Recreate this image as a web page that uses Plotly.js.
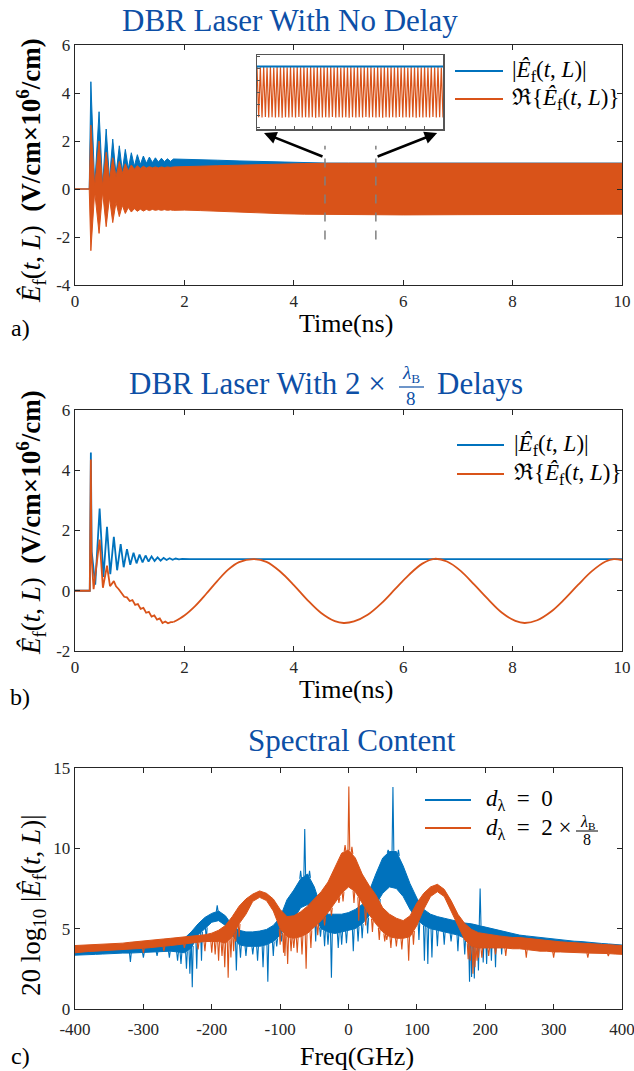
<!DOCTYPE html>
<html><head><meta charset="utf-8">
<script src="https://cdn.plot.ly/plotly-3.0.1.min.js"></script>
<style>html,body{margin:0;padding:0;background:#fff}#chart{width:634px;height:1071px}</style>
</head><body><div id="chart"></div>
<script>
// ===== Panel a: DBR laser, no delay (envelopes) =====
const tA = [0,0.26,0.29,0.36,0.44,0.505,0.57,0.63,0.69,0.75,0.81,0.865,0.92,0.975,1.03,1.085,1.14,1.195,1.25,1.305,1.36,1.415,1.47,1.525,1.58,1.635,1.69,1.745,1.8,1.9,2.0,2.3,2.6,3.0,3.4,3.8,4.2,4.6,5.0,6.0,7.0,8.0,9.0,10.0];
const aAbsUpper = [0,0,4.47,0.12,3.22,0.15,2.5,0.4,2.08,0.6,1.8,0.75,1.65,0.85,1.51,0.95,1.43,1.02,1.375,1.07,1.33,1.1,1.3,1.12,1.28,1.14,1.26,1.15,1.25,1.24,1.24,1.22,1.2,1.17,1.14,1.11,1.09,1.08,1.08,1.08,1.08,1.08,1.08,1.08];
const aReUpper = [0,0,2.66,0.1,2.0,0.12,1.53,0.35,1.3,0.5,1.15,0.65,1.05,0.75,1.0,0.82,0.97,0.85,0.95,0.87,0.93,0.88,0.92,0.88,0.92,0.89,0.92,0.9,0.92,0.92,0.93,0.95,0.97,1.0,1.03,1.05,1.06,1.07,1.07,1.07,1.07,1.07,1.07,1.07];
const aReLower = [0,0,-2.57,-0.1,-1.85,-0.12,-1.57,-0.35,-1.4,-0.55,-1.15,-0.68,-1.02,-0.77,-0.96,-0.82,-0.93,-0.84,-0.92,-0.85,-0.9,-0.85,-0.89,-0.86,-0.89,-0.86,-0.89,-0.87,-0.89,-0.88,-0.88,-0.9,-0.93,-0.96,-1.0,-1.03,-1.05,-1.06,-1.07,-1.08,-1.07,-1.07,-1.06,-1.05];
// inset (zoom of 4.55-5.45 ns)
const insetStart = 4.55, insetEnd = 5.45;
const insetRe = [1.06,-1.05,1.05,-1.06,1.07,-1.04,1.05,-1.06,1.06,-1.05,1.04,-1.06,1.06,-1.05,1.05,-1.07,1.06,-1.05,1.05,-1.06,
 1.07,-1.05,1.05,-1.06,1.06,-1.04,1.05,-1.06,1.06,-1.05,1.04,-1.06,1.06,-1.05,1.05,-1.07,1.06,-1.05,1.05,-1.06,
 1.07,-1.05,1.05,-1.06,1.06,-1.04,1.05,-1.06,1.06,-1.05,1.04,-1.06,1.06,-1.05,1.05,-1.07,1.06,-1.05,1.05,-1.06,
 1.07,-1.05,1.05,-1.06,1.06,-1.04,1.05,-1.06,1.06,-1.05,1.04,-1.06,1.06,-1.05,1.05,-1.07,1.06,-1.05,1.05,-1.06,
 1.07,-1.05,1.05,-1.06,1.06,-1.04,1.05,-1.06,1.06,-1.05,1.04,-1.06,1.06,-1.05,1.05,-1.07,1.06,-1.05,1.05,-1.06,
 1.07,-1.05,1.05,-1.06,1.06,-1.04,1.05,-1.06,1.06,-1.05,1.04,-1.06];
const insetAbs = [1.08,1.08];
const dashTimes = [4.57,5.5];
const dashYRange = [-2.1,1.8];

// ===== Panel b: with 2 x lambda_B/8 delays =====
const tB = [0,0.27,0.285,0.29,0.305,0.37,0.45,0.52,0.585,0.645,0.71,0.77,0.835,0.89,0.95,1.01,1.07,1.125,1.18,1.235,1.29,1.345,1.4,1.455,1.51,1.565,1.62,1.675,1.73,1.785,1.84,1.9,1.96,2.1,10];
const absB = [0,0,3.3,4.59,1.3,0.2,2.73,0.46,2.12,0.55,1.79,0.68,1.55,0.78,1.38,0.86,1.26,0.91,1.2,0.94,1.17,0.97,1.14,0.99,1.11,1.0,1.09,1.02,1.08,1.03,1.07,1.04,1.06,1.05,1.05];
const tBre1 = [0,0.27,0.285,0.29,0.3,0.34,0.45,0.51,0.585,0.64,0.71,0.75,0.8,0.85,0.9,0.95,1.0,1.05,1.1,1.15,1.2,1.25,1.3,1.35,1.4,1.45,1.5,1.55,1.6,1.65,1.7,1.75,1.8];
const reB1 = [0,0,3.0,4.36,1.2,0.05,1.7,0.1,0.83,0.15,0.32,0.15,0.05,-0.08,-0.2,-0.22,-0.34,-0.31,-0.47,-0.44,-0.6,-0.57,-0.73,-0.7,-0.86,-0.82,-0.96,-0.92,-1.07,-1.02,-1.08,-1.04,-1.04];
const tBre2 = [1.8,2.0,2.2,2.4,2.6,2.8,3.0,3.27,3.5,3.75,4.0,4.25,4.5,4.75,4.91,5.1,5.35,5.6,5.85,6.1,6.35,6.57,6.8,7.05,7.3,7.55,7.8,8.05,8.22,8.45,8.7,8.95,9.2,9.45,9.7,9.85,10.0];
const reB2 = [-1.04,-0.82,-0.5,-0.1,0.32,0.7,0.95,1.05,0.96,0.64,0.19,-0.31,-0.74,-1.01,-1.07,-1.02,-0.8,-0.42,0.05,0.52,0.9,1.06,0.97,0.66,0.2,-0.28,-0.72,-1.0,-1.07,-0.98,-0.7,-0.28,0.2,0.65,0.97,1.05,1.02];

// ===== Panel c: spectral content (band edges + spikes) =====
const freq = [-400,-390,-380,-370,-360,-350,-340,-330,-320,-310,-300,-290,-280,-270,-260,-250,-240,-230,-220,-210,-200,-190,-180,-170,-160,-150,-140,-130,-120,-110,-100,-90,-80,-70,-60,-50,-40,-30,-20,-10,0,10,20,30,40,50,60,70,80,90,100,110,120,130,140,150,160,170,180,190,200,210,220,230,240,250,260,270,280,290,300,310,320,330,340,350,360,370,380,390,400];
const specBlueUp = [3.75,3.75,3.78,3.8,3.82,3.83,3.85,3.86,3.88,3.9,3.93,3.95,3.98,4.0,4.05,4.15,4.4,4.8,5.3,5.7,5.95,6.1,5.8,5.2,4.9,4.8,4.8,4.85,4.95,5.2,5.7,6.8,7.4,8.1,8.4,7.6,6.3,5.9,5.9,5.9,6.0,6.2,6.5,7.3,8.4,9.4,9.8,9.8,8.9,7.8,6.9,6.2,5.9,5.75,5.65,5.55,5.45,5.35,5.3,5.2,5.1,5.0,4.9,4.8,4.7,4.6,4.55,4.5,4.45,4.4,4.35,4.3,4.25,4.22,4.2,4.15,4.1,4.08,4.05,4.0,3.98];
const specBlueLo = [3.35,3.38,3.4,3.4,3.42,3.45,3.45,3.48,3.48,3.5,3.52,3.55,3.58,3.6,3.6,3.55,3.5,3.8,4.6,5.0,5.4,5.5,5.2,4.6,4.0,3.9,3.9,3.9,4.0,4.2,4.6,5.2,5.6,6.3,6.5,5.8,5.0,4.8,4.7,4.8,4.9,5.0,5.3,5.8,6.5,7.2,7.6,7.5,7.0,6.2,5.6,5.2,5.0,4.9,4.8,4.7,4.6,4.4,4.2,4.3,4.4,4.4,4.35,4.3,4.2,4.15,4.1,4.05,4.0,3.95,3.9,3.85,3.8,3.78,3.75,3.72,3.7,3.68,3.65,3.62,3.6];
const specOrUp = [3.95,3.97,3.98,4.0,4.02,4.05,4.08,4.1,4.15,4.2,4.25,4.28,4.32,4.36,4.4,4.44,4.48,4.52,4.56,4.62,4.72,4.9,5.2,5.75,6.4,6.85,7.15,7.35,7.2,6.85,6.2,5.75,5.8,6.05,6.4,6.85,7.3,7.9,8.8,9.7,9.9,9.4,8.4,7.7,7.1,6.3,5.9,5.65,5.5,5.8,6.6,7.2,7.6,7.76,7.45,6.75,5.9,5.32,4.95,4.75,4.68,4.6,4.55,4.5,4.45,4.45,4.4,4.35,4.3,4.25,4.2,4.18,4.15,4.12,4.1,4.08,4.05,4.03,4.0,3.98,3.95];
const specOrLo = [3.5,3.55,3.58,3.6,3.62,3.65,3.68,3.7,3.72,3.75,3.78,3.82,3.85,3.9,3.95,4.0,4.05,4.1,4.15,4.2,4.2,4.2,4.1,4.5,5.3,5.9,6.7,6.95,6.75,6.1,5.0,4.5,4.4,4.5,4.7,5.1,5.5,6.0,6.6,7.2,7.6,7.3,6.6,5.9,5.3,4.8,4.5,4.4,4.4,4.5,5.2,6.2,7.0,7.3,7.0,6.1,5.1,4.3,3.9,3.8,3.8,3.8,3.8,3.8,3.75,3.75,3.7,3.65,3.6,3.6,3.55,3.55,3.52,3.5,3.5,3.48,3.48,3.45,3.45,3.42,3.4];
const blueSpikeF = [-319,-300,-280,-262,-250,-245,-237,-232,-228.5,-222,-215,-208,-192,-164,-158,-150,-140,-133,-125,-118,-110,-105,-98,-70,-64,-57,-48,-41,-35,-30,-25,-15,-10,-3,7,14,20,28,45,58,65,73,95,103,111,116,122,130,140,150,160,170,177,180,184,190,192.5,197,202,209,215,224,232,240,260];
const blueSpikeV = [2.93,3.2,3.3,3.2,3.0,2.8,2.5,2.2,1.35,2.5,3.0,4.3,6.45,2.4,3.2,3.3,3.4,3.0,2.6,1.7,3.3,3.9,4.2,8.6,11.2,8.6,4.2,4.5,3.9,4.0,1.95,3.8,4.0,4.1,3.6,4.2,4.4,4.7,5.8,9.9,13.82,9.9,5.0,4.3,3.0,2.8,3.2,3.9,4.0,4.2,3.6,3.4,1.7,2.0,1.9,2.4,7.5,2.9,2.8,3.0,2.6,3.4,3.8,3.9,3.9];
const orSpikeF = [-300,-270,-240,-220,-210,-200,-195,-190,-185,-181,-176,-172,-168,-165,-160,-100,-95,-93,-89,-84,-80,-75,-68,-62,-55,-45,-35,-25,-14,-8,-5,0.5,5,8,15,25,35,45,53,56,62,70,78,88,95,175,178,182,185,188,190,195,205,215,230,260,300,350,380];
const orSpikeV = [3.5,3.6,3.8,3.7,3.6,3.5,3.4,3.0,3.3,2.6,1.95,3.2,3.6,4.2,4.5,4.0,3.5,3.3,2.8,3.6,3.8,3.5,3.4,2.5,3.8,4.6,5.2,5.8,6.6,6.7,10.2,13.85,10.1,6.6,5.5,5.2,4.8,4.3,4.2,4.3,3.8,3.9,3.7,3.0,4.0,3.1,3.0,2.2,2.6,3.0,3.2,3.2,3.3,3.4,3.3,3.2,3.2,3.2,3.3];

// ===== ticks =====
const tickTimeVals = [0,2,4,6,8,10];
const tickA_Y = [-4,-2,0,2,4,6];
const tickB_Y = [-2,0,2,4,6];
const tickC_X = [-400,-300,-200,-100,0,100,200,300,400];
const tickC_Y = [0,5,10,15];

const BLUE = '#0072BD', ORANGE = '#D95319', TITLE = '#0D4FA6', AX = '#262626';
const SERIF = 'Liberation Serif, Times New Roman, serif';
const L = 75, PW = 547, H = 1071;
const px = x => (x - L) / PW;
const py = y => 1 - y / H;
const tt = arr => arr.map(v => String(v));

function interp(xs, ys, x) {
  for (let i = 0; i < xs.length - 1; i++) {
    if (x >= xs[i] && x <= xs[i+1]) { const r = (x - xs[i]) / (xs[i+1] - xs[i]); return ys[i] + r * (ys[i+1] - ys[i]); }
  }
  return ys[ys.length - 1];
}
function spikes(F, V, up, lo, color, xa, ya) {
  const xs = [], ys = [];
  F.forEach((f, i) => {
    const u = interp(freq, up, f), l = interp(freq, lo, f), v = V[i];
    const base = v > u ? u : (v < l ? l : (u + l) / 2);
    xs.push(f - 1.3, f, f + 1.3, null); ys.push(base, v, base, null);
  });
  return {x: xs, y: ys, xaxis: xa, yaxis: ya, mode: 'lines', line: {color, width: 1.1}};
}

const insetT = insetRe.map((_, i) => insetStart + i * (insetEnd - insetStart) / (insetRe.length - 1));

const traces = [
  {x: tA, y: aAbsUpper, xaxis: 'x', yaxis: 'y', mode: 'lines', fill: 'tozeroy', fillcolor: BLUE, line: {color: BLUE, width: 1}},
  {x: tA, y: aReUpper, xaxis: 'x', yaxis: 'y', mode: 'lines', line: {color: ORANGE, width: 1}},
  {x: tA, y: aReLower, xaxis: 'x', yaxis: 'y', mode: 'lines', fill: 'tonexty', fillcolor: ORANGE, line: {color: ORANGE, width: 1}},
  {x: insetT, y: insetRe, xaxis: 'x4', yaxis: 'y4', mode: 'lines', line: {color: ORANGE, width: 1.2}},
  {x: [insetStart, insetEnd], y: insetAbs, xaxis: 'x4', yaxis: 'y4', mode: 'lines', line: {color: BLUE, width: 2}},
  {x: tB, y: absB, xaxis: 'x2', yaxis: 'y2', mode: 'lines', line: {color: BLUE, width: 1.8}},
  {x: tBre1, y: reB1, xaxis: 'x2', yaxis: 'y2', mode: 'lines', line: {color: ORANGE, width: 1.8}},
  {x: tBre2, y: reB2, xaxis: 'x2', yaxis: 'y2', mode: 'lines', line: {color: ORANGE, width: 1.8, shape: 'spline'}},
  {x: freq, y: specBlueUp, xaxis: 'x3', yaxis: 'y3', mode: 'lines', line: {color: BLUE, width: 1}},
  {x: freq, y: specBlueLo, xaxis: 'x3', yaxis: 'y3', mode: 'lines', fill: 'tonexty', fillcolor: BLUE, line: {color: BLUE, width: 1}},
  spikes(blueSpikeF, blueSpikeV, specBlueUp, specBlueLo, BLUE, 'x3', 'y3'),
  {x: freq, y: specOrUp, xaxis: 'x3', yaxis: 'y3', mode: 'lines', line: {color: ORANGE, width: 1}},
  {x: freq, y: specOrLo, xaxis: 'x3', yaxis: 'y3', mode: 'lines', fill: 'tonexty', fillcolor: ORANGE, line: {color: ORANGE, width: 1}},
  spikes(orSpikeF, orSpikeV, specOrUp, specOrLo, ORANGE, 'x3', 'y3')
].map(t => Object.assign({hoverinfo: 'skip', showlegend: false}, t));

const axBase = {showline: true, linecolor: AX, linewidth: 1.3, mirror: 'ticks', ticks: 'inside', ticklen: 5, tickcolor: AX,
  showgrid: false, zeroline: false, tickfont: {family: SERIF, size: 17, color: AX}, fixedrange: true, ticklabeloverflow: 'allow'};
const ax = o => Object.assign({}, axBase, o);

const ann = (text, x, y, size, opt) => Object.assign({text, x: px(x), y: py(y), xref: 'paper', yref: 'paper', showarrow: false,
  xanchor: 'center', yanchor: 'middle', font: {family: SERIF, size, color: '#000'}}, opt || {});
const hline = (x0, x1, y, color, w) => ({type: 'line', xref: 'paper', yref: 'paper', x0: px(x0), x1: px(x1), y0: py(y), y1: py(y), line: {color, width: w}});
const tfont = s => ({font: {family: SERIF, size: s, color: TITLE}});

const E = "<i>Ê</i><sub>f</sub>(<i>t</i>, <i>L</i>)";
const yLab = E + "&nbsp;&nbsp;<b>(V/cm×10<sup>6</sup>/cm)</b>";
const annotations = [
  ann('DBR Laser With No Delay', 290, 20, 31, tfont(31)),
  ann('DBR Laser With 2 ×', 388, 383, 31, Object.assign({xanchor: 'right'}, tfont(31))),
  ann('<i>λ</i><sub>B</sub>', 411, 374, 19, tfont(19)),
  ann('8', 411, 398, 19, tfont(19)),
  ann('Delays', 435, 383, 31, Object.assign({xanchor: 'left'}, tfont(31))),
  ann('Spectral Content', 352, 740, 31, tfont(31)),
  ann('Time(ns)', 346, 323, 26),
  ann('Time(ns)', 346, 689, 26),
  ann('Freq(GHz)', 357, 1056, 26),
  ann('a)', 20, 328, 24), ann('b)', 20, 697, 24), ann('c)', 20, 1056, 24),
  ann(yLab, 31, 171, 27, {textangle: -90}),
  ann(yLab, 31, 523, 27, {textangle: -90}),
  ann('20 log<sub>10</sub> |' + E + '|', 33, 905, 27, {textangle: -90}),
  ann('|' + E + '|', 510, 71, 23, {xanchor: 'left'}),
  ann('ℜ{' + E + '}', 510, 99, 23, {xanchor: 'left'}),
  ann('|' + E + '|', 512, 445, 23, {xanchor: 'left'}),
  ann('ℜ{' + E + '}', 512, 474, 23, {xanchor: 'left'}),
  ann('<i>d</i><sub>λ</sub>&nbsp; = &nbsp;0', 484, 800, 23, {xanchor: 'left'}),
  ann('<i>d</i><sub>λ</sub>&nbsp; = &nbsp;2 ×', 484, 829, 23, {xanchor: 'left'}),
  ann('<i>λ</i><sub>B</sub>', 587, 822, 16),
  ann('8', 587, 839, 16),
  {x: 3.455, y: 2.33, xref: 'x', yref: 'y', ax: 60, ay: 24, axref: 'pixel', ayref: 'pixel', text: '', showarrow: true,
   arrowhead: 2, arrowsize: 1, arrowwidth: 2.5, arrowcolor: '#000'},
  {x: 6.62, y: 2.33, xref: 'x', yref: 'y', ax: -61, ay: 24, axref: 'pixel', ayref: 'pixel', text: '', showarrow: true,
   arrowhead: 2, arrowsize: 1, arrowwidth: 2.5, arrowcolor: '#000'}
];
const shapes = [
  hline(455, 503, 71, BLUE, 2), hline(455, 503, 99, ORANGE, 2),
  hline(457, 504, 445, BLUE, 2), hline(457, 504, 474, ORANGE, 2),
  hline(425, 471, 800, BLUE, 2), hline(425, 471, 828, ORANGE, 2),
  hline(399, 424, 387, TITLE, 1.2), hline(576, 598, 831, '#000', 1),
  ...dashTimes.map(t => ({type: 'line', xref: 'x', yref: 'y', x0: t, x1: t, y0: dashYRange[0], y1: dashYRange[1],
    line: {color: '#808080', width: 1.5, dash: 'dash'}}))
];

const layout = {
  width: 634, height: 1071, margin: {l: L, r: 634 - L - PW, t: 0, b: 0},
  paper_bgcolor: '#fff', plot_bgcolor: '#fff', showlegend: false, hovermode: false,
  font: {family: SERIF},
  xaxis: ax({domain: [0, 1], anchor: 'y', range: [0, 10], tickvals: tickTimeVals, ticktext: tt(tickTimeVals)}),
  yaxis: ax({domain: [py(285), py(45)], anchor: 'x', range: [-4, 6], tickvals: tickA_Y, ticktext: tt(tickA_Y)}),
  xaxis2: ax({domain: [0, 1], anchor: 'y2', range: [0, 10], tickvals: tickTimeVals, ticktext: tt(tickTimeVals)}),
  yaxis2: ax({domain: [py(651), py(410)], anchor: 'x2', range: [-2, 6], tickvals: tickB_Y, ticktext: tt(tickB_Y)}),
  xaxis3: ax({domain: [0, 1], anchor: 'y3', range: [-400, 400], tickvals: tickC_X, ticktext: tt(tickC_X), ticklabelstandoff: 4}),
  yaxis3: ax({domain: [py(1009), py(768)], anchor: 'x3', range: [0, 15], tickvals: tickC_Y, ticktext: tt(tickC_Y)}),
  xaxis4: {domain: [px(257), px(443)], anchor: 'y4', range: [insetStart, insetEnd], showline: true, mirror: true, linecolor: '#555', linewidth: 1.5,
    ticks: 'inside', ticklen: 3, tickcolor: '#555', dtick: 0.09, tick0: insetStart, showticklabels: false, showgrid: false, zeroline: false},
  yaxis4: {domain: [py(129), py(55)], anchor: 'x4', range: [-1.55, 1.57], showline: true, mirror: true, linecolor: '#555', linewidth: 1.5,
    ticks: 'inside', ticklen: 3, tickcolor: '#555', dtick: 0.5, tick0: 0, showticklabels: false, showgrid: false, zeroline: false},
  annotations, shapes
};
Plotly.newPlot('chart', traces, layout, {displayModeBar: false, staticPlot: true});
</script></body></html>
